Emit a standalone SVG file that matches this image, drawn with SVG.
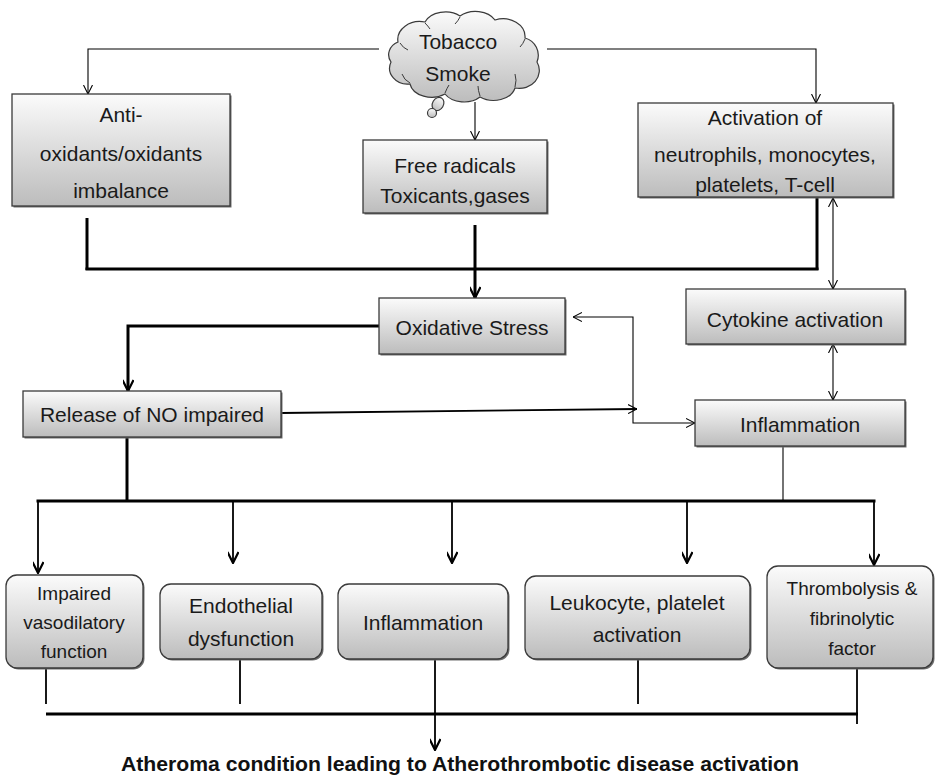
<svg xmlns="http://www.w3.org/2000/svg" width="935" height="778" viewBox="0 0 935 778">
<defs>
<linearGradient id="gr" x1="0" y1="0" x2="0" y2="1">
<stop offset="0" stop-color="#fbfbfb"/>
<stop offset="1" stop-color="#bcbcbc"/>
</linearGradient>
<marker id="a" viewBox="0 0 10 10" refX="10" refY="5" markerWidth="9" markerHeight="10" markerUnits="userSpaceOnUse" orient="auto-start-reverse">
<path d="M0,0 L10,5 L0,10" fill="none" stroke="#000" stroke-width="1.2"/>
</marker>
<marker id="b" viewBox="0 0 10 10" refX="10" refY="5" markerWidth="13" markerHeight="11" markerUnits="userSpaceOnUse" orient="auto-start-reverse">
<path d="M0,0 L10,5 L0,10" fill="none" stroke="#000" stroke-width="2"/>
</marker>
</defs>
<style>
.bx{fill:url(#gr);stroke:#3a3a3a;stroke-width:1.3}
.sh{fill:#6e6e6e}
.t{font-family:"Liberation Sans",Arial,sans-serif;font-size:21px;text-anchor:middle;fill:#1a1a1a}
.s{font-size:19px}
.th{fill:none;stroke:#000;stroke-width:1.1}
.md{fill:none;stroke:#000;stroke-width:1.8}
.tk{fill:none;stroke:#000;stroke-width:3}
</style>
<rect width="935" height="778" fill="#fff"/>

<g id="connectors">
<polyline class="th" points="379,49 88,49 88,94" marker-end="url(#a)"/>
<polyline class="th" points="547,49 816,49 816,103" marker-end="url(#a)"/>
<line class="th" x1="475" y1="102" x2="475" y2="140" marker-end="url(#a)"/>
<line class="tk" x1="87" y1="218" x2="87" y2="270"/>
<line class="tk" x1="817" y1="197" x2="817" y2="270"/>
<line class="tk" x1="85.5" y1="269" x2="818.5" y2="269"/>
<line class="tk" x1="475" y1="225" x2="475" y2="298" marker-end="url(#b)"/>
<line class="th" x1="833" y1="198" x2="833" y2="289" marker-start="url(#a)" marker-end="url(#a)"/>
<line class="th" x1="833" y1="344" x2="833" y2="400" marker-start="url(#a)" marker-end="url(#a)"/>
<polyline class="tk" points="379,326 128,326 128,391" marker-end="url(#b)"/>
<polyline class="th" points="573,317 633,317 633,423 695,423" marker-start="url(#a)" marker-end="url(#a)"/>
<line class="md" x1="281" y1="413" x2="637" y2="409" marker-end="url(#a)"/>
<line class="tk" x1="127" y1="437" x2="127" y2="501"/>
<line class="th" x1="783" y1="446" x2="783" y2="501"/>
<line class="tk" x1="36.5" y1="501" x2="875.5" y2="501"/>
<line class="md" x1="38" y1="501" x2="38" y2="573" marker-end="url(#b)"/>
<line class="md" x1="233" y1="501" x2="233" y2="563" marker-end="url(#b)"/>
<line class="md" x1="452" y1="501" x2="452" y2="563" marker-end="url(#b)"/>
<line class="md" x1="687" y1="501" x2="687" y2="563" marker-end="url(#b)"/>
<line class="md" x1="874" y1="501" x2="874" y2="565" marker-end="url(#b)"/>
<line class="md" x1="46" y1="668" x2="46" y2="704"/>
<line class="md" x1="240" y1="659" x2="240" y2="704"/>
<line class="md" x1="638" y1="659" x2="638" y2="704"/>
<line class="md" x1="857" y1="668" x2="857" y2="724"/>
<line class="tk" x1="46" y1="714" x2="858" y2="714"/>
<line class="md" x1="435" y1="659" x2="435" y2="750" marker-end="url(#b)"/>
</g>

<g id="tobacco">
<path d="M398,42 A22,18 0 0 1 425,22 A22,16 0 0 1 460,16 A22,16 0 0 1 495,20 A22,18 0 0 1 525,38 A18,18 0 0 1 537,62 A20,18 0 0 1 515,88 A22,16 0 0 1 480,97 A22,16 0 0 1 445,94 A22,16 0 0 1 410,84 A18,16 0 0 1 391,62 A16,14 0 0 1 398,42 Z" fill="url(#gr)" stroke="#3a3a3a" stroke-width="1.2"/>
<path d="M400,43 Q403,48 408,50 M410,83 Q404,80 402,74 M445,93 Q447,88 449,85 M480,96 Q478,90 478,86 M515,87 Q517,80 515,74 M525,39 Q523,44 520,47 M460,17 Q458,21 455,24 M425,23 Q428,26 430,29" fill="none" stroke="#3a3a3a" stroke-width="1"/>
<ellipse cx="438" cy="104" rx="5.5" ry="7" transform="rotate(30 438 104)" fill="url(#gr)" stroke="#3a3a3a" stroke-width="1.2"/>
<circle cx="432" cy="113" r="4.5" fill="url(#gr)" stroke="#3a3a3a" stroke-width="1.2"/>
<text class="t" x="458" y="49">Tobacco</text>
<text class="t" x="458" y="81">Smoke</text>
</g>

<g id="antioxidants">
<rect class="sh" x="13.5" y="95.5" width="218" height="112"/>
<rect class="bx" x="12" y="94" width="218" height="112"/>
<text class="t" x="121" y="122">Anti-</text>
<text class="t" x="121" y="161">oxidants/oxidants</text>
<text class="t" x="121" y="198">imbalance</text>
</g>

<g id="freeradicals">
<rect class="sh" x="364.5" y="141.5" width="184" height="73"/>
<rect class="bx" x="363" y="140" width="184" height="73"/>
<text class="t" x="455" y="173">Free radicals</text>
<text class="t" x="455" y="203">Toxicants,gases</text>
</g>

<g id="activation">
<rect class="sh" x="639.5" y="104.5" width="255" height="94"/>
<rect class="bx" x="638" y="103" width="255" height="94"/>
<text class="t" x="765" y="125">Activation of</text>
<text class="t" x="765" y="162">neutrophils, monocytes,</text>
<text class="t" x="765" y="192">platelets, T-cell</text>
</g>

<g id="oxidative">
<rect class="sh" x="380.5" y="299.5" width="186" height="56"/>
<rect class="bx" x="379" y="298" width="186" height="56"/>
<text class="t" x="472" y="335">Oxidative Stress</text>
</g>

<g id="cytokine">
<rect class="sh" x="687.5" y="290.5" width="219" height="55"/>
<rect class="bx" x="686" y="289" width="219" height="55"/>
<text class="t" x="795" y="327">Cytokine activation</text>
</g>

<g id="releaseNO">
<rect class="sh" x="24.5" y="392.5" width="258" height="46"/>
<rect class="bx" x="23" y="391" width="258" height="46"/>
<text class="t" x="152" y="422">Release of NO impaired</text>
</g>

<g id="inflammation1">
<rect class="sh" x="696.5" y="401.5" width="210" height="46"/>
<rect class="bx" x="695" y="400" width="210" height="46"/>
<text class="t" x="800" y="432">Inflammation</text>
</g>

<g id="impaired">
<rect class="sh" x="7.5" y="576.5" width="137" height="93" rx="11"/>
<rect class="bx" x="6" y="575" width="137" height="93" rx="11"/>
<text class="t s" x="74" y="600">Impaired</text>
<text class="t s" x="74" y="629">vasodilatory</text>
<text class="t s" x="74" y="658">function</text>
</g>

<g id="endothelial">
<rect class="sh" x="161.5" y="585.5" width="162" height="75" rx="11"/>
<rect class="bx" x="160" y="584" width="162" height="75" rx="11"/>
<text class="t" x="241" y="613">Endothelial</text>
<text class="t" x="241" y="646">dysfunction</text>
</g>

<g id="inflammation2">
<rect class="sh" x="339.5" y="585.5" width="170" height="75" rx="11"/>
<rect class="bx" x="338" y="584" width="170" height="75" rx="11"/>
<text class="t" x="423" y="630">Inflammation</text>
</g>

<g id="leukocyte">
<rect class="sh" x="526.5" y="577.5" width="225" height="83" rx="11"/>
<rect class="bx" x="525" y="576" width="225" height="83" rx="11"/>
<text class="t" x="637" y="610">Leukocyte, platelet</text>
<text class="t" x="637" y="642">activation</text>
</g>

<g id="thrombolysis">
<rect class="sh" x="768.5" y="567.5" width="166" height="102" rx="11"/>
<rect class="bx" x="767" y="566" width="166" height="102" rx="11"/>
<text class="t s" x="852" y="595">Thrombolysis &amp;</text>
<text class="t s" x="852" y="625">fibrinolytic</text>
<text class="t s" x="852" y="655">factor</text>
</g>

<g id="atheroma">
<text x="121" y="771" textLength="678" lengthAdjust="spacingAndGlyphs" style="font-family:'Liberation Sans',Arial,sans-serif;font-size:20px;font-weight:bold;fill:#111">Atheroma condition leading to Atherothrombotic disease activation</text>
</g>
</svg>
